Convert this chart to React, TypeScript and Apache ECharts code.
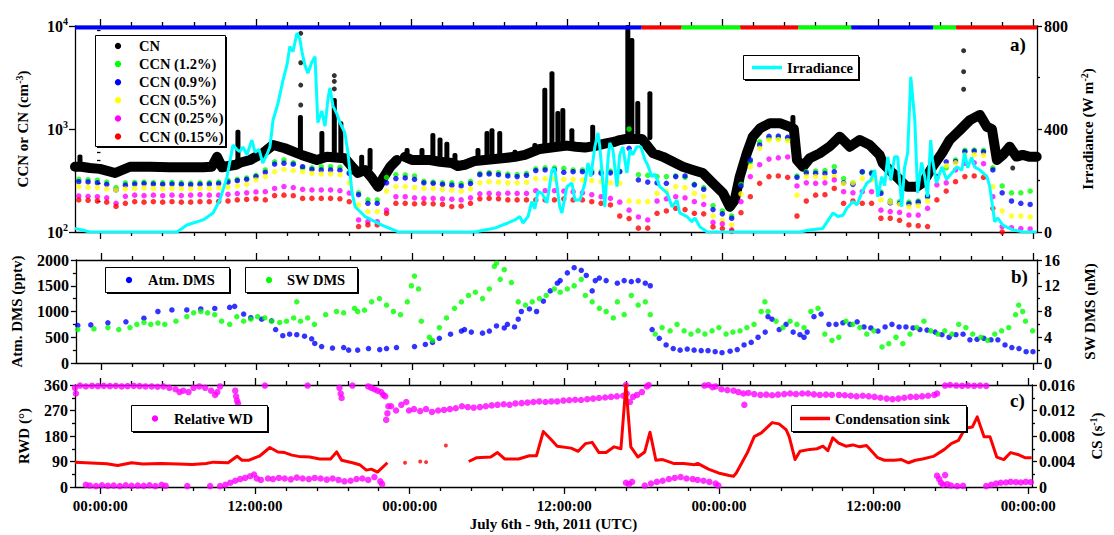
import React, { useEffect, useRef } from "react";
import * as echarts from "echarts";

const FONT = '"Liberation Serif", "Times New Roman", Times, serif';

// Time is expressed in fractional days since 2011-07-07 00:00 UTC.
const X_MIN = -0.082;
const X_MAX = 3.012;
const dayTicks = [0, 0.5, 1, 1.5, 2, 2.5, 3];
const tenthDayTicks: number[] = [];
for (let k = 1; k < 31; k++) if (k % 5 !== 0) tenthDayTicks.push(k / 10);

// Class bar along the top of panel a: segment edges (days) and class index per segment
const statusEdges = [-0.082, 1.74, 1.868, 2.058, 2.244, 2.415, 2.678, 2.752, 3.012];
const statusClass = [0, 1, 2, 1, 2, 0, 2, 1];
const statusPalette = ["#0000ff", "#ff0000", "#00ff00"];

// CN number concentration (cm-3), baseline trace [day, value]; null marks a data gap
const cnSamples: [number, number | null][] = [
  [-0.082, 430], [-0.069, 430], [-0.061, 430], [-0.034, 418], [-0.002, 410], [0.047, 374], [0.095, 430],
  [0.159, 430], [0.223, 425], [0.288, 425], [0.33, 425], [0.358, 430], [0.375, 537], [0.391, 425], [0.416, 440],
  [0.436, 450], [0.448, 470], [0.481, 500], [0.522, 584], [0.555, 700], [0.593, 650], [0.632, 584],
  [0.647, 560], [0.696, 500], [0.728, 537], [0.786, 520], [0.809, 430], [0.828, 374], [0.851, 400],
  [0.873, 334], [0.893, 275], [0.912, 345], [0.932, 430], [0.953, 500], [0.96, null], [0.979, 537], [1.002, 500],
  [1.06, 500], [1.092, 480], [1.13, 467], [1.149, 437], [1.172, 450], [1.204, 490], [1.3, 523], [1.333, 537],
  [1.365, 560], [1.413, 640], [1.5, 690], [1.529, 673], [1.558, 660], [1.596, 690], [1.622, 720], [1.654, 752],
  [1.67, 780], [1.69, 800], [1.741, 800], [1.777, 584], [1.809, 537], [1.841, 480], [1.873, 430], [1.905, 400],
  [1.937, 374], [1.969, 299], [2.002, 239], [2.024, 176], [2.04, 204], [2.056, 345], [2.079, 584], [2.098, 842],
  [2.121, 1013], [2.153, 1140], [2.185, 1140], [2.217, 1050], [2.23, 1000], [2.24, 500], [2.259, 430], [2.281, 520],
  [2.313, 580], [2.346, 680], [2.378, 842], [2.41, 673], [2.442, 782], [2.474, 700], [2.506, 560], [2.516, 465],
  [2.548, 372], [2.571, 320], [2.593, 275], [2.625, 275], [2.644, 300], [2.657, 345], [2.676, 430], [2.706, 580],
  [2.731, 782], [2.764, 975], [2.796, 1220], [2.828, 1370], [2.851, 1050], [2.867, 1000], [2.883, 500], [2.902, 560],
  [2.924, 673], [2.946, 540], [2.966, 560], [2.989, 537], [3.011, 537],
];

// Short CN bursts above the baseline: [day, low, high]
const cnBursts: [number, number, number][] = [
  [-0.066, 430, 540], [0.442, 450, 940], [0.643, 570, 1310], [0.712, 500, 913], [0.752, 537, 1910],
  [0.773, 530, 1140], [0.84, 390, 537], [0.867, 390, 625], [0.986, 520, 625], [1.034, 500, 625],
  [1.069, 490, 875], [1.092, 480, 790], [1.114, 470, 720], [1.14, 460, 560], [1.214, 490, 625],
  [1.243, 520, 913], [1.259, 520, 975], [1.284, 523, 913], [1.333, 537, 600], [1.397, 580, 700],
  [1.429, 650, 2400], [1.452, 660, 3470], [1.471, 675, 1430], [1.487, 680, 1530], [1.516, 680, 975],
  [1.583, 680, 1050], [1.696, 800, 9800], [1.703, 800, 2000], [1.709, 820, 7300], [1.728, 820, 1790],
  [1.767, 780, 2220], [2.227, 1050, 1310],
];

// Isolated CN readings standing apart from the main trace
const cnIsolated: [number, number][] = [
  [0.644, 8490], [0.644, 4400], [0.644, 2670], [0.644, 1710], [0.752, 3300], [0.752, 2900], [0.752, 2450],
  [2.776, 5760], [2.776, 3600], [2.776, 2430], [2.934, 418],
];

// CCN counts (cm-3) at five supersaturations, one reading per cycle
const ccnStart = -0.07;
const ccnStep = 0.03;
const ccn12 = [
  325, 322, 318, 305, 270, 300, 303, 305, 302, 300, 303, 300, 298, 300, 302, 305, 318, 325, 335, 355,
  400, 480, 500, 470, 420, 420, 430, 430, 425, 380, 240, 205, 205, 340, 360, 358, 350, 310, 305, 300,
  300, 295, 310, 370, 378, 375, 365, 360, 370, 410, 420, 420, 415, 400, 400, 390, 385, 390, 390, 1000,
  360, 355, 345, 345, 350, 340, 290, 270, 180, 160, 143, 290, 480, 750, 810, 815, 800, 350, 385, 390,
  395, 430, 330, 300, 380, 380, 245, 200, 197, 195, 200, 225, 345, 420, 500, 620, 625, 620, 420, 280,
  240, 240, 250,
];
const ccn09 = [
  308, 306, 300, 290, 256, 285, 292, 295, 292, 290, 292, 290, 288, 290, 292, 295, 305, 315, 325, 345,
  380, 457, 465, 455, 430, 405, 400, 400, 398, 370, 230, 190, 190, 300, 330, 335, 325, 300, 297, 290,
  285, 280, 295, 360, 366, 360, 350, 345, 355, 395, 400, 400, 380, 385, 385, 375, 372, 375, 385, 650,
  320, 305, 300, 297, 345, 350, 287, 260, 165, 150, 136, 280, 500, 700, 850, 855, 830, 340, 375, 372,
  370, 385, 300, 290, 385, 370, 237, 192, 190, 188, 195, 220, 345, 480, 482, 603, 610, 600, 400, 240,
  200, 190, 185,
];
const ccn05 = [
  276, 272, 270, 262, 256, 262, 265, 268, 265, 263, 265, 263, 262, 265, 265, 268, 272, 280, 290, 320,
  345, 385, 405, 395, 385, 370, 366, 366, 360, 300, 183, 158, 158, 250, 276, 276, 270, 265, 265, 260,
  255, 250, 262, 300, 308, 305, 300, 300, 303, 330, 330, 330, 325, 325, 320, 315, 308, 300, 297, 200,
  197, 197, 237, 250, 276, 270, 237, 220, 143, 130, 117, 235, 430, 650, 782, 790, 770, 228, 345, 345,
  340, 345, 295, 300, 330, 320, 205, 195, 185, 176, 180, 200, 330, 440, 470, 559, 565, 555, 276, 160,
  143, 143, 140,
];
const ccn025 = [
  224, 222, 220, 215, 190, 222, 228, 226, 228, 225, 228, 226, 228, 230, 228, 228, 232, 236, 240, 245,
  246, 265, 276, 270, 260, 256, 256, 256, 252, 239, 131, 126, 126, 163, 220, 220, 215, 212, 212, 210,
  208, 205, 215, 235, 237, 235, 238, 237, 237, 252, 252, 252, 250, 246, 240, 230, 220, 212, 195, 163,
  140, 131, 200, 210, 220, 215, 197, 185, 124, 120, 105, 197, 345, 450, 510, 525, 535, 280, 300, 297,
  300, 320, 246, 240, 246, 246, 163, 158, 155, 146, 146, 170, 287, 300, 400, 465, 470, 460, 220, 113,
  110, 108, 107,
];
const ccn015: (number | null)[] = [
  205, 203, 200, 195, 177, 190, 197, 195, 197, 195, 197, 195, 195, 197, 197, 198, 200, 205, 207, 210,
  205, 226, 228, 225, 212, 212, 212, 212, 210, 197, 113, 117, 117, 152, 190, 190, 188, 190, 188, 185,
  176, 178, 190, 210, 212, 210, 205, 205, 205, 205, 205, 205, 210, 205, 205, 197, 190, 183, 143, 135,
  109, 109, 152, 160, 170, 165, 152, 150, 112, 108, 102, 154, 220, 297, 345, 350, 340, 143, 200, 228,
  230, 265, 190, 200, 190, 190, 136, 136, 130, 117, 115, 113, 205, 250, 308, 345, 350, 340, 170, 100,
  null, null, null,
];

// Solar irradiance (W m-2)
const irradiance: [number, number][] = [
  [-0.082, 14], [-0.059, 8], [-0.034, 0], [0.246, 0], [0.278, 27], [0.33, 47], [0.362, 74], [0.384, 124],
  [0.407, 215], [0.426, 338], [0.439, 320], [0.448, 312], [0.458, 330], [0.471, 300], [0.487, 357], [0.497, 310],
  [0.51, 320], [0.522, 268], [0.535, 300], [0.545, 331], [0.555, 435], [0.571, 500], [0.587, 590], [0.6, 650],
  [0.609, 720], [0.619, 700], [0.632, 773], [0.641, 750], [0.648, 700], [0.657, 650], [0.667, 617], [0.68, 660],
  [0.69, 681], [0.699, 425], [0.712, 470], [0.722, 411], [0.732, 520], [0.738, 559], [0.748, 489], [0.76, 460],
  [0.77, 425], [0.786, 385], [0.796, 307], [0.809, 152], [0.819, 98], [0.851, 60], [0.905, 27], [0.956, 1],
  [1.204, 0], [1.236, 8], [1.268, 15], [1.31, 35], [1.333, 47], [1.349, 60], [1.359, 35], [1.375, 60],
  [1.387, 118], [1.397, 90], [1.407, 157], [1.42, 150], [1.436, 113], [1.452, 241], [1.461, 245], [1.477, 98],
  [1.484, 74], [1.5, 176], [1.516, 190], [1.526, 124], [1.542, 124], [1.558, 190], [1.568, 268], [1.577, 215],
  [1.59, 331], [1.6, 385], [1.606, 330], [1.612, 245], [1.622, 98], [1.632, 280], [1.638, 346], [1.648, 320],
  [1.661, 176], [1.67, 300], [1.68, 331], [1.693, 229], [1.703, 320], [1.712, 300], [1.725, 331], [1.738, 331],
  [1.751, 280], [1.76, 260], [1.773, 215], [1.783, 225], [1.799, 176], [1.822, 152], [1.838, 98], [1.854, 124],
  [1.863, 74], [1.886, 60], [1.902, 40], [1.912, 54], [1.927, 21], [1.95, 1], [2.249, 0], [2.281, 8],
  [2.323, 14], [2.356, 74], [2.372, 60], [2.388, 65], [2.401, 93], [2.42, 118], [2.433, 105], [2.448, 152],
  [2.465, 190], [2.477, 200], [2.49, 241], [2.5, 137], [2.513, 215], [2.522, 180], [2.532, 292], [2.542, 200],
  [2.554, 292], [2.564, 292], [2.577, 98], [2.586, 250], [2.596, 307], [2.606, 603], [2.619, 435], [2.628, 152],
  [2.641, 270], [2.651, 215], [2.66, 137], [2.67, 357], [2.676, 280], [2.689, 190], [2.706, 253], [2.721, 205],
  [2.738, 229], [2.754, 253], [2.77, 240], [2.779, 307], [2.789, 250], [2.802, 290], [2.811, 253], [2.828, 241],
  [2.851, 215], [2.86, 176], [2.876, 40], [2.886, 54], [2.902, 27], [2.934, 8], [2.966, 1], [3.011, 0],
];

// Atmospheric DMS (pptv)
const atmDms: [number, number][] = [
  [-0.076, 730], [-0.034, 740], [0.021, 780], [0.079, 800], [0.137, 870], [0.182, 1000], [0.227, 1030], [0.275, 1030],
  [0.32, 1050], [0.365, 1060], [0.413, 1080], [0.429, 1100], [0.458, 950], [0.481, 880], [0.516, 850], [0.548, 820],
  [0.561, 650], [0.584, 530], [0.606, 560], [0.629, 550], [0.654, 520], [0.677, 470], [0.687, 380], [0.709, 320],
  [0.744, 290], [0.78, 300], [0.796, 250], [0.825, 250], [0.86, 280], [0.896, 260], [0.918, 280], [0.95, 300],
  [1.008, 320], [1.043, 360], [1.066, 400], [1.088, 480], [1.124, 560], [1.159, 620], [1.169, 650], [1.191, 600],
  [1.227, 580], [1.249, 620], [1.272, 720], [1.297, 680], [1.307, 750], [1.33, 700], [1.342, 850], [1.352, 1000],
  [1.378, 1050], [1.401, 1000], [1.423, 1200], [1.445, 1400], [1.468, 1550], [1.477, 1600], [1.5, 1750], [1.522, 1850],
  [1.545, 1800], [1.561, 1700], [1.58, 1400], [1.59, 1600], [1.603, 1650], [1.625, 1600], [1.661, 1550], [1.683, 1600],
  [1.706, 1580], [1.728, 1600], [1.751, 1550], [1.767, 1500], [1.773, 650], [1.796, 480], [1.818, 350], [1.841, 280],
  [1.863, 250], [1.886, 270], [1.908, 250], [1.931, 240], [1.953, 240], [1.976, 220], [1.998, 200], [2.024, 230],
  [2.047, 260], [2.069, 350], [2.092, 400], [2.114, 500], [2.137, 600], [2.146, 900], [2.159, 850], [2.182, 650],
  [2.204, 750], [2.227, 600], [2.249, 550], [2.262, 500], [2.272, 600], [2.294, 900], [2.317, 950], [2.342, 750],
  [2.365, 750], [2.387, 780], [2.41, 750], [2.433, 800], [2.455, 700], [2.477, 680], [2.5, 620], [2.523, 700],
  [2.545, 750], [2.568, 700], [2.59, 700], [2.613, 680], [2.635, 650], [2.658, 640], [2.684, 600], [2.706, 550],
  [2.729, 500], [2.751, 550], [2.774, 560], [2.796, 450], [2.819, 460], [2.841, 480], [2.864, 450], [2.886, 450],
  [2.909, 350], [2.931, 300], [2.954, 280], [2.977, 220], [2.999, 220],
];

// Seawater DMS (nM)
const swDms: [number, number][] = [
  [-0.076, 5.2], [-0.024, 5.3], [0.021, 5.5], [0.056, 5.2], [0.092, 5.5], [0.114, 6.0], [0.137, 6.3], [0.159, 6.0],
  [0.182, 6.2], [0.204, 6.0], [0.24, 6.5], [0.275, 7.2], [0.297, 7.8], [0.32, 8.0], [0.342, 7.8], [0.365, 7.5],
  [0.387, 6.5], [0.413, 6.0], [0.436, 7.2], [0.458, 6.5], [0.481, 6.8], [0.503, 7.2], [0.526, 7.0], [0.548, 6.5],
  [0.574, 6.3], [0.596, 6.5], [0.619, 7.0], [0.629, 9.5], [0.641, 6.5], [0.664, 7.0], [0.686, 6.0], [0.722, 7.5],
  [0.757, 8.0], [0.78, 7.8], [0.815, 8.5], [0.825, 8.0], [0.847, 8.2], [0.87, 9.5], [0.895, 10.0], [0.918, 9.0],
  [0.94, 8.0], [0.963, 7.5], [0.985, 9.5], [0.998, 12.0], [1.008, 13.5], [1.021, 11.5], [1.03, 6.5], [1.056, 4.0],
  [1.066, 3.5], [1.088, 5.5], [1.111, 7.0], [1.137, 8.5], [1.159, 9.5], [1.182, 10.5], [1.204, 11.0], [1.227, 10.0],
  [1.249, 11.5], [1.265, 15.0], [1.272, 15.5], [1.284, 13.0], [1.297, 14.5], [1.32, 12.5], [1.342, 9.5], [1.365, 9.0],
  [1.387, 9.5], [1.41, 10.0], [1.432, 10.5], [1.458, 11.5], [1.477, 11.0], [1.5, 11.5], [1.522, 12.0], [1.545, 13.0],
  [1.558, 10.5], [1.58, 9.5], [1.603, 8.5], [1.625, 8.0], [1.648, 7.0], [1.661, 9.5], [1.683, 7.5], [1.706, 10.5],
  [1.728, 9.0], [1.751, 9.5], [1.767, 7.5], [1.783, 4.5], [1.805, 5.5], [1.831, 5.0], [1.853, 6.0], [1.876, 5.0],
  [1.898, 4.5], [1.921, 5.0], [1.943, 4.5], [1.966, 5.0], [1.988, 5.5], [2.011, 4.5], [2.033, 4.8], [2.056, 5.0],
  [2.078, 5.5], [2.101, 6.0], [2.124, 8.0], [2.136, 9.5], [2.146, 8.0], [2.172, 6.5], [2.194, 5.5], [2.217, 6.5],
  [2.239, 6.0], [2.262, 5.5], [2.284, 8.0], [2.307, 8.5], [2.329, 4.5], [2.352, 3.5], [2.374, 4.0], [2.397, 6.5],
  [2.419, 6.0], [2.442, 5.5], [2.464, 4.5], [2.487, 5.0], [2.513, 2.5], [2.535, 3.0], [2.558, 4.0], [2.58, 3.0],
  [2.603, 4.5], [2.625, 5.5], [2.648, 6.5], [2.67, 5.0], [2.693, 4.5], [2.715, 5.0], [2.738, 4.5], [2.76, 6.0],
  [2.783, 5.5], [2.805, 4.5], [2.831, 4.0], [2.853, 3.5], [2.876, 4.5], [2.898, 5.0], [2.921, 5.5], [2.943, 7.5],
  [2.953, 9.0], [2.966, 8.0], [2.975, 6.5], [2.998, 5.0],
];

// Relative wind direction (degrees)
const relWindDir: [number, number][] = [
  [-0.082, 350], [-0.079, 330], [-0.066, 358], [-0.047, 355], [-0.027, 357], [-0.008, 356], [0.011, 357], [0.031, 356],
  [0.05, 357], [0.069, 355], [0.088, 356], [0.108, 357], [0.127, 356], [0.146, 355], [0.166, 355], [0.185, 354],
  [0.204, 355], [0.223, 350], [0.243, 345], [0.256, 335], [0.268, 340], [0.285, 335], [0.301, 350], [0.32, 355],
  [0.339, 350], [0.358, 340], [0.371, 325], [0.378, 335], [0.387, 355],
  [-0.047, 8], [-0.034, 5], [-0.014, 3], [0.005, 6], [0.024, 4], [0.043, 5], [0.063, 3], [0.082, 6], [0.101, 4],
  [0.121, 5], [0.14, 4], [0.159, 6], [0.178, 3], [0.198, 8], [0.211, 4], [0.281, 3], [0.355, 3],
  [0.436, 340], [0.439, 320], [0.442, 305], [0.445, 295], [0.532, 358], [0.67, 358], [0.773, 350], [0.777, 330],
  [0.78, 314], [0.815, 358], [0.866, 355], [0.876, 350], [0.886, 345], [0.896, 340], [0.908, 335], [0.915, 325], [0.921, 320],
  [0.387, 3], [0.404, 8], [0.42, 15], [0.436, 22], [0.452, 28], [0.468, 32], [0.484, 38], [0.497, 44], [0.506, 30],
  [0.519, 25], [0.542, 30], [0.558, 28], [0.577, 32], [0.596, 30], [0.616, 27], [0.635, 33], [0.654, 30], [0.674, 28],
  [0.693, 32], [0.712, 30], [0.732, 26], [0.751, 30], [0.77, 25], [0.789, 20], [0.809, 22], [0.828, 28], [0.847, 30],
  [0.866, 25], [0.886, 35], [0.905, 20], [0.911, 10],
  [0.924, 237], [0.928, 260], [0.931, 285],
  [0.94, 285], [0.956, 270], [0.973, 290], [0.989, 300], [0.998, 270], [1.014, 275], [1.034, 268], [1.053, 275],
  [1.072, 265], [1.092, 270], [1.111, 272], [1.13, 275], [1.149, 278], [1.169, 285], [1.188, 282], [1.207, 280],
  [1.227, 282], [1.246, 285], [1.265, 288], [1.284, 290], [1.304, 292], [1.323, 290], [1.342, 295], [1.362, 296],
  [1.381, 298], [1.4, 300], [1.419, 302], [1.439, 300], [1.458, 302], [1.477, 302], [1.497, 305], [1.516, 306],
  [1.535, 308], [1.554, 307], [1.574, 310], [1.593, 312], [1.612, 314], [1.632, 316], [1.651, 318], [1.67, 320],
  [1.69, 322], [1.699, 360], [1.702, 330], [1.712, 300], [1.722, 318], [1.735, 325], [1.751, 335], [1.767, 355], [1.773, 360],
  [1.699, 15], [1.709, 10], [1.719, 18], [1.76, 5], [1.78, 12], [1.799, 18], [1.818, 22], [1.838, 28], [1.857, 32],
  [1.876, 35], [1.895, 30], [1.915, 28], [1.931, 25], [1.95, 22], [1.969, 18], [1.989, 12], [1.998, 5],
  [1.953, 358], [1.966, 360], [1.979, 352], [1.989, 355], [2.008, 345], [2.027, 342], [2.047, 340], [2.063, 335],
  [2.079, 330], [2.082, 290], [2.095, 332], [2.114, 328], [2.134, 325], [2.153, 326], [2.172, 324], [2.191, 326],
  [2.211, 328], [2.23, 330], [2.249, 328], [2.269, 330], [2.288, 330], [2.307, 327], [2.326, 325], [2.346, 326],
  [2.365, 325], [2.388, 325], [2.407, 324], [2.426, 322], [2.445, 320], [2.465, 322], [2.484, 320], [2.503, 318],
  [2.522, 315], [2.542, 312], [2.561, 310], [2.58, 312], [2.599, 315], [2.619, 318], [2.638, 318], [2.657, 320],
  [2.676, 322], [2.696, 325], [2.705, 330],
  [2.705, 40], [2.712, 28], [2.718, 15], [2.725, 8], [2.731, 42], [2.738, 10], [2.75, 5], [2.77, 3], [2.789, 4],
  [2.731, 358], [2.747, 360], [2.767, 358], [2.786, 357], [2.805, 358], [2.825, 357], [2.844, 358], [2.864, 357],
  [2.864, 3], [2.88, 8], [2.896, 12], [2.911, 15], [2.928, 16], [2.943, 18], [2.96, 17], [2.976, 16], [2.992, 18], [3.008, 17],
];

// Condensation sink (s-1); null marks the break in the record
const condSink: [number, number | null][] = [
  [-0.082, 0.0039], [0.021, 0.00364], [0.056, 0.00338], [0.101, 0.0038], [0.137, 0.0036], [0.195, 0.0037],
  [0.252, 0.0036], [0.297, 0.00354], [0.342, 0.0037], [0.365, 0.0039], [0.413, 0.0038], [0.442, 0.00483],
  [0.458, 0.0042], [0.481, 0.0042], [0.516, 0.0049], [0.548, 0.0062], [0.574, 0.0055], [0.596, 0.0054],
  [0.619, 0.005], [0.641, 0.0048], [0.677, 0.0047], [0.709, 0.0044], [0.744, 0.0044], [0.764, 0.0055],
  [0.78, 0.0042], [0.815, 0.0038], [0.838, 0.0035], [0.86, 0.00265], [0.876, 0.0028], [0.896, 0.00234],
  [0.928, 0.0038], [0.95, null],
  [1.191, 0.004], [1.217, 0.0046], [1.262, 0.0047], [1.284, 0.0054], [1.307, 0.0044], [1.352, 0.0044],
  [1.387, 0.0049], [1.41, 0.0049], [1.432, 0.0087], [1.458, 0.0074], [1.477, 0.0064], [1.522, 0.0061],
  [1.545, 0.0056], [1.568, 0.0068], [1.59, 0.007], [1.612, 0.0054], [1.635, 0.0054], [1.661, 0.0063],
  [1.683, 0.006], [1.699, 0.016], [1.715, 0.0063], [1.738, 0.0047], [1.76, 0.0055], [1.777, 0.0086],
  [1.796, 0.0042], [1.818, 0.0043], [1.853, 0.0037], [1.886, 0.0037], [1.921, 0.0035], [1.931, 0.0037],
  [1.966, 0.0028], [1.998, 0.0022], [2.033, 0.0018], [2.047, 0.0017], [2.056, 0.0022], [2.092, 0.0054],
  [2.114, 0.0079], [2.137, 0.0085], [2.172, 0.0101], [2.194, 0.0099], [2.217, 0.009], [2.227, 0.0079],
  [2.246, 0.0043], [2.262, 0.0056], [2.294, 0.0059], [2.317, 0.006], [2.336, 0.0064], [2.352, 0.0057],
  [2.368, 0.0077], [2.387, 0.0069], [2.41, 0.0064], [2.433, 0.0066], [2.455, 0.0063], [2.477, 0.0065],
  [2.513, 0.0046], [2.535, 0.0042], [2.567, 0.0042], [2.59, 0.0043], [2.613, 0.0038], [2.635, 0.0042],
  [2.658, 0.0044], [2.693, 0.0048], [2.729, 0.0059], [2.751, 0.0068], [2.774, 0.0073], [2.796, 0.0092],
  [2.819, 0.0094], [2.835, 0.011], [2.857, 0.0079], [2.876, 0.0079], [2.898, 0.0047], [2.921, 0.0043],
  [2.943, 0.0054], [2.966, 0.0051], [2.989, 0.0046], [3.011, 0.0046],
];
const condSinkIsolated: [number, number][] = [[0.985, 0.0038], [1.034, 0.004], [1.053, 0.0039], [1.117, 0.0065]];

const COLORS = {
  cn: "#000000",
  ccn12: "#00ff00",
  ccn09: "#0000ff",
  ccn05: "#ffff00",
  ccn025: "#ff00ff",
  ccn015: "#ff0000",
  irradiance: "#00ffff",
  atmDms: "#0000ff",
  swDms: "#00ff00",
  rwd: "#ff00ff",
  cs: "#ff0000",
};

const ccnSeriesDefs = [
  { name: "CCN (1.2%)", values: ccn12, color: COLORS.ccn12 },
  { name: "CCN (0.9%)", values: ccn09, color: COLORS.ccn09 },
  { name: "CCN (0.5%)", values: ccn05, color: COLORS.ccn05 },
  { name: "CCN (0.25%)", values: ccn025, color: COLORS.ccn025 },
  { name: "CCN (0.15%)", values: ccn015, color: COLORS.ccn015 },
];

const ccnData = (values: (number | null)[]) =>
  values
    .map((v, i) => [+(ccnStart + i * ccnStep).toFixed(3), v])
    .filter((p) => p[1] !== null);

const AXIS_COLOR = "#000";
const axisLineStyle = { color: AXIS_COLOR, width: 1.3 };
const boldText = { fontFamily: FONT, fontWeight: "bold" as const, color: "#000" };
const supRich = {
  s: { fontFamily: FONT, fontWeight: "bold" as const, fontSize: 10, lineHeight: 8, verticalAlign: "top" as const, color: "#000" },
};
const plainNumber = (v: number) => String(v);

function timeAxes(gridIndex: number, withLabels: boolean) {
  const base = { type: "value", gridIndex, min: X_MIN, max: X_MAX, splitLine: { show: false } };
  const major = (position: string, labels: boolean) => ({
    ...base,
    position,
    axisLine: { show: true, onZero: false, lineStyle: axisLineStyle },
    axisTick: { show: true, customValues: dayTicks, length: 7, lineStyle: axisLineStyle },
    axisLabel: labels
      ? {
          show: true,
          customValues: dayTicks,
          margin: 11,
          fontSize: 15,
          ...boldText,
          formatter: (v: number) => (Math.abs(v - Math.round(v)) < 1e-6 ? "00:00:00" : "12:00:00"),
        }
      : { show: false },
    ...(labels
      ? {
          name: "July 6th - 9th, 2011 (UTC)",
          nameLocation: "middle",
          nameGap: 29,
          nameTextStyle: { ...boldText, fontSize: 15 },
        }
      : {}),
  });
  const minor = (position: string) => ({
    ...base,
    position,
    axisLine: { show: false, onZero: false },
    axisTick: { show: true, customValues: tenthDayTicks, length: 4, lineStyle: axisLineStyle },
    axisLabel: { show: false },
  });
  return [major("bottom", withLabels), minor("bottom"), major("top", false), minor("top")];
}

const logMinorTicks: number[] = [];
for (const decade of [100, 1000]) for (let k = 2; k <= 9; k++) logMinorTicks.push(Math.log10(k * decade));

function valueAxis(
  gridIndex: number,
  position: "left" | "right",
  min: number,
  max: number,
  interval: number,
  name: string,
  nameGap: number,
  fmt: (v: number) => string = plainNumber
) {
  return {
    type: "value",
    gridIndex,
    position,
    min,
    max,
    interval,
    splitLine: { show: false },
    axisLine: { show: true, onZero: false, lineStyle: axisLineStyle },
    axisTick: { show: true, length: 5, lineStyle: axisLineStyle },
    minorTick: { show: true, splitNumber: 2, length: 3, lineStyle: axisLineStyle },
    axisLabel: { margin: 7, fontSize: 16, ...boldText, formatter: fmt },
    name,
    nameLocation: "middle",
    nameRotate: 90,
    nameGap,
    nameTextStyle: { ...boldText, fontSize: 15, lineHeight: 18, rich: supRich },
  };
}

// Boxed keys with a hard drop shadow, drawn as graphic elements
type KeyEntry = { label: string; color: string; kind: "dot" | "line" };
function keyBox(
  box: { x: number; y: number; w: number; h: number },
  entries: KeyEntry[],
  iconX: number,
  textX: number,
  firstRowY: number,
  rowStep: number
) {
  const els: any[] = [
    { type: "rect", shape: { x: box.x + 1.5, y: box.y + 1.5, width: box.w, height: box.h }, style: { fill: "#000" }, z: 100 },
    { type: "rect", shape: { x: box.x, y: box.y, width: box.w, height: box.h }, style: { fill: "#fff", stroke: "#000", lineWidth: 1 }, z: 101 },
  ];
  entries.forEach((e, i) => {
    const cy = firstRowY + i * rowStep;
    if (e.kind === "dot") {
      els.push({ type: "circle", shape: { cx: iconX, cy, r: 3.2 }, style: { fill: e.color }, z: 102 });
    } else {
      els.push({
        type: "line",
        shape: { x1: iconX - 15, y1: cy, x2: iconX + 15, y2: cy },
        style: { stroke: e.color, lineWidth: 3.5 },
        z: 102,
      });
    }
    els.push({
      type: "text",
      x: textX,
      y: cy,
      style: {
        text: e.label,
        font: `bold 14.5px ${FONT}`,
        fill: "#000",
        textAlign: "left",
        textVerticalAlign: "middle",
        verticalAlign: "middle",
      },
      z: 102,
    });
  });
  return els;
}

const option: any = {
  animation: false,
  backgroundColor: "#fff",
  grid: [
    { left: 75, top: 26, width: 962, height: 206 },
    { left: 75, top: 260, width: 962, height: 103 },
    { left: 75, top: 385, width: 962, height: 102 },
  ],
  xAxis: [...timeAxes(0, false), ...timeAxes(1, false), ...timeAxes(2, true)],
  yAxis: [
    {
      type: "log",
      logBase: 10,
      gridIndex: 0,
      position: "left",
      min: 100,
      max: 10000,
      splitLine: { show: false },
      axisLine: { show: true, onZero: false, lineStyle: axisLineStyle },
      axisTick: { show: true, length: 6, lineStyle: axisLineStyle },
      axisLabel: {
        margin: 7,
        formatter: (v: number) => `{b|10}{s|${Math.round(Math.log10(v))}}`,
        rich: {
          b: { ...boldText, fontSize: 16, lineHeight: 20 },
          s: { ...boldText, fontSize: 10, lineHeight: 8, verticalAlign: "top" },
        },
      },
      name: "CCN or CN (cm{s|-3})",
      nameLocation: "middle",
      nameRotate: 90,
      nameGap: 43,
      nameTextStyle: { ...boldText, fontSize: 15, lineHeight: 18, rich: supRich },
    },
    {
      type: "value",
      gridIndex: 0,
      position: "left",
      min: 2,
      max: 4,
      splitLine: { show: false },
      axisLine: { show: false },
      axisTick: { show: true, customValues: logMinorTicks, length: 3.5, lineStyle: axisLineStyle },
      axisLabel: { show: false },
    },
    valueAxis(0, "right", 0, 800, 400, "Irradiance (W m{s|-2})", 42),
    valueAxis(1, "left", 0, 2000, 500, "Atm. DMS (pptv)", 48),
    valueAxis(1, "right", 0, 16, 4, "SW DMS (nM)", 44),
    valueAxis(2, "left", 0, 360, 90, "RWD (°)", 42),
    valueAxis(2, "right", 0, 0.016, 0.004, "CS (s{s|-1})", 56, (v: number) => (v === 0 ? "0" : v.toFixed(3))),
  ],
  graphic: [
    ...keyBox(
      { x: 95.5, y: 35.5, w: 130, h: 111 },
      [
        { label: "CN", color: COLORS.cn, kind: "dot" },
        ...ccnSeriesDefs.map((d) => ({ label: d.name, color: d.color, kind: "dot" as const })),
      ],
      118,
      139,
      46,
      18.1
    ),
    ...keyBox({ x: 743.5, y: 55.5, w: 115, h: 24 }, [{ label: "Irradiance", color: COLORS.irradiance, kind: "line" }], 767, 787, 67.5, 0),
    ...keyBox({ x: 105.5, y: 267.5, w: 124, h: 25 }, [{ label: "Atm. DMS", color: COLORS.atmDms, kind: "dot" }], 129, 148, 280, 0),
    ...keyBox({ x: 245.5, y: 267.5, w: 112, h: 25 }, [{ label: "SW DMS", color: COLORS.swDms, kind: "dot" }], 269, 287, 280, 0),
    ...keyBox({ x: 131.5, y: 405.5, w: 136, h: 26 }, [{ label: "Relative WD", color: COLORS.rwd, kind: "dot" }], 155, 174, 418.5, 0),
    ...keyBox({ x: 791.5, y: 405.5, w: 175, h: 26 }, [{ label: "Condensation sink", color: COLORS.cs, kind: "line" }], 815, 835, 418.5, 0),
    { type: "text", x: 1010, y: 35, style: { text: "a)", font: `bold 19px ${FONT}`, fill: "#000" }, z: 102 },
    { type: "text", x: 1011, y: 267, style: { text: "b)", font: `bold 19px ${FONT}`, fill: "#000" }, z: 102 },
    { type: "text", x: 1010, y: 391, style: { text: "c)", font: `bold 19px ${FONT}`, fill: "#000" }, z: 102 },
  ],
  series: [
    {
      type: "custom",
      name: "class",
      xAxisIndex: 0,
      yAxisIndex: 0,
      clip: false,
      silent: true,
      encode: { x: [0, 1], y: 3 },
      data: statusClass.map((c, i) => [statusEdges[i], statusEdges[i + 1], c, 10000]),
      renderItem: (_params: any, api: any) => {
        const a = api.coord([api.value(0), 10000]);
        const b = api.coord([api.value(1), 10000]);
        return {
          type: "rect",
          shape: { x: a[0], y: a[1] - 0.5, width: b[0] - a[0], height: 4 },
          style: { fill: statusPalette[api.value(2)] },
        };
      },
      z: 5,
    },
    {
      type: "line",
      name: "CN",
      xAxisIndex: 0,
      yAxisIndex: 0,
      data: cnSamples,
      showSymbol: false,
      symbol: "none",
      connectNulls: false,
      lineStyle: { color: COLORS.cn, width: 10, join: "round", cap: "round" },
      itemStyle: { color: COLORS.cn },
      z: 2,
    },
    {
      type: "custom",
      name: "CN bursts",
      xAxisIndex: 0,
      yAxisIndex: 0,
      silent: true,
      encode: { x: 0, y: [1, 2] },
      data: cnBursts,
      renderItem: (_params: any, api: any) => {
        const lo = api.coord([api.value(0), api.value(1)]);
        const hi = api.coord([api.value(0), api.value(2)]);
        return {
          type: "rect",
          shape: { x: lo[0] - 2.5, y: hi[1] - 2, width: 5, height: lo[1] - hi[1] + 2, r: 2 },
          style: { fill: COLORS.cn },
        };
      },
      z: 2,
    },
    {
      type: "scatter",
      name: "CN isolated",
      xAxisIndex: 0,
      yAxisIndex: 0,
      data: cnIsolated,
      symbolSize: 5,
      itemStyle: { color: COLORS.cn },
      z: 2,
    },
    ...ccnSeriesDefs.map((d) => ({
      type: "scatter",
      name: d.name,
      xAxisIndex: 0,
      yAxisIndex: 0,
      data: ccnData(d.values),
      symbolSize: 5.5,
      itemStyle: { color: d.color },
      z: 3,
    })),
    {
      type: "line",
      name: "Irradiance",
      xAxisIndex: 0,
      yAxisIndex: 2,
      data: irradiance,
      showSymbol: false,
      symbol: "none",
      lineStyle: { color: COLORS.irradiance, width: 3 },
      itemStyle: { color: COLORS.irradiance },
      z: 4,
    },
    {
      type: "scatter",
      name: "Atm. DMS",
      xAxisIndex: 4,
      yAxisIndex: 3,
      data: atmDms,
      symbolSize: 5.5,
      itemStyle: { color: COLORS.atmDms },
      z: 3,
    },
    {
      type: "scatter",
      name: "SW DMS",
      xAxisIndex: 4,
      yAxisIndex: 4,
      data: swDms,
      symbolSize: 5.5,
      itemStyle: { color: COLORS.swDms },
      z: 4,
    },
    {
      type: "scatter",
      name: "Relative WD",
      xAxisIndex: 8,
      yAxisIndex: 5,
      data: relWindDir,
      symbolSize: 6.5,
      clip: false,
      itemStyle: { color: COLORS.rwd },
      z: 3,
    },
    {
      type: "line",
      name: "Condensation sink",
      xAxisIndex: 8,
      yAxisIndex: 6,
      data: condSink,
      showSymbol: false,
      symbol: "none",
      connectNulls: false,
      lineStyle: { color: COLORS.cs, width: 3, join: "round" },
      itemStyle: { color: COLORS.cs },
      z: 4,
    },
    {
      type: "scatter",
      name: "CS isolated",
      xAxisIndex: 8,
      yAxisIndex: 6,
      data: condSinkIsolated,
      symbolSize: 4,
      itemStyle: { color: COLORS.cs },
      z: 4,
    },
  ],
};

export default function App() {
  const ref = useRef<HTMLDivElement>(null);
  useEffect(() => {
    const chart = echarts.init(ref.current!, null, { renderer: "svg" });
    chart.setOption(option);
    return () => chart.dispose();
  }, []);
  return (
    <div
      ref={ref}
      style={{ width: 1114, height: 535, position: "absolute", left: 0, top: 0, background: "#fff" }}
    />
  );
}
